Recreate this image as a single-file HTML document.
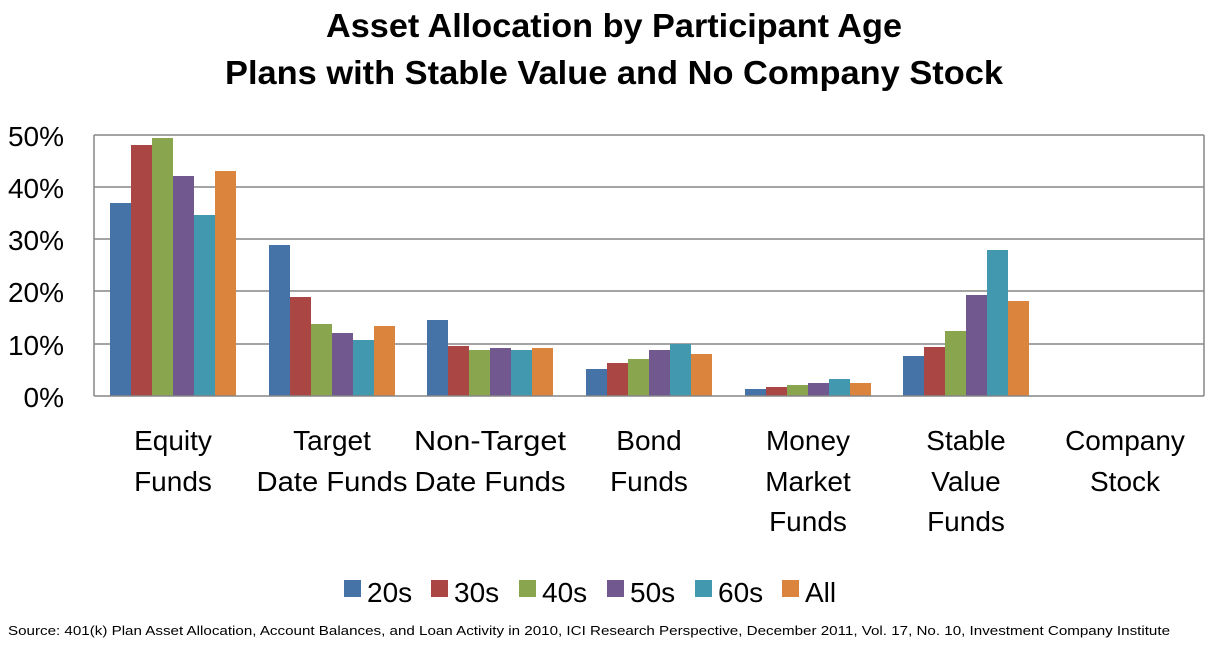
<!DOCTYPE html>
<html><head><meta charset="utf-8"><style>
body{margin:0;background:#fff;}
text{font-family:"Liberation Sans",sans-serif;}
</style></head><body>
<svg width="1214" height="647" xmlns="http://www.w3.org/2000/svg">
<rect width="1214" height="647" fill="#fff"/>
<text x="326" y="37" font-size="33" font-weight="bold" textLength="576" lengthAdjust="spacingAndGlyphs">Asset Allocation by Participant Age</text>
<text x="225" y="84" font-size="33" font-weight="bold" textLength="778" lengthAdjust="spacingAndGlyphs">Plans with Stable Value and No Company Stock</text>
<g stroke="#868686" stroke-width="1.5">
<line x1="94" y1="135" x2="1204" y2="135"/>
<line x1="94" y1="187" x2="1204" y2="187"/>
<line x1="94" y1="239" x2="1204" y2="239"/>
<line x1="94" y1="291" x2="1204" y2="291"/>
<line x1="94" y1="344" x2="1204" y2="344"/>
<line x1="94" y1="135" x2="94" y2="396"/>
<line x1="1204" y1="135" x2="1204" y2="396"/>
</g>
<g font-size="28" text-anchor="end">
<text x="64" y="146">50%</text><text x="64" y="198">40%</text><text x="64" y="250">30%</text><text x="64" y="302">20%</text><text x="64" y="355">10%</text><text x="64" y="407">0%</text>
</g>
<g font-size="28" text-anchor="middle">
<text x="173" y="450">Equity</text><text x="173" y="491">Funds</text>
<text x="332" y="450">Target</text><text x="332" y="491" textLength="151" lengthAdjust="spacingAndGlyphs">Date Funds</text>
<text x="490" y="450" textLength="152" lengthAdjust="spacingAndGlyphs">Non-Target</text><text x="490" y="491" textLength="151" lengthAdjust="spacingAndGlyphs">Date Funds</text>
<text x="649" y="450">Bond</text><text x="649" y="491">Funds</text>
<text x="808" y="450">Money</text><text x="808" y="491">Market</text><text x="808" y="531">Funds</text>
<text x="966" y="450">Stable</text><text x="966" y="491">Value</text><text x="966" y="531">Funds</text>
<text x="1125" y="450">Company</text><text x="1125" y="491">Stock</text>
</g>
<g font-size="28">
<rect x="344" y="580" width="17" height="17" fill="#4572A7"/><text x="367" y="602">20s</text>
<rect x="431" y="580" width="17" height="17" fill="#AA4643"/><text x="454" y="602">30s</text>
<rect x="519" y="580" width="17" height="17" fill="#89A54E"/><text x="542" y="602">40s</text>
<rect x="607" y="580" width="17" height="17" fill="#71588F"/><text x="630" y="602">50s</text>
<rect x="695" y="580" width="17" height="17" fill="#4198AF"/><text x="718" y="602">60s</text>
<rect x="782" y="580" width="17" height="17" fill="#DB843D"/><text x="805" y="602">All</text>
</g>
<text x="8" y="635" font-size="13" textLength="1162" lengthAdjust="spacingAndGlyphs">Source: 401(k) Plan Asset Allocation, Account Balances, and Loan Activity in 2010, ICI Research  Perspective, December 2011, Vol. 17, No. 10, Investment Company Institute</text>
<g>
<rect x="110" y="203" width="21" height="193" fill="#4572A7"/>
<rect x="131" y="145" width="21" height="251" fill="#AA4643"/>
<rect x="152" y="138" width="21" height="258" fill="#89A54E"/>
<rect x="173" y="176" width="21" height="220" fill="#71588F"/>
<rect x="194" y="215" width="21" height="181" fill="#4198AF"/>
<rect x="215" y="171" width="21" height="225" fill="#DB843D"/>

<rect x="269" y="245" width="21" height="151" fill="#4572A7"/>
<rect x="290" y="297" width="21" height="99" fill="#AA4643"/>
<rect x="311" y="324" width="21" height="72" fill="#89A54E"/>
<rect x="332" y="333" width="21" height="63" fill="#71588F"/>
<rect x="353" y="340" width="21" height="56" fill="#4198AF"/>
<rect x="374" y="326" width="21" height="70" fill="#DB843D"/>

<rect x="427" y="320" width="21" height="76" fill="#4572A7"/>
<rect x="448" y="346" width="21" height="50" fill="#AA4643"/>
<rect x="469" y="350" width="21" height="46" fill="#89A54E"/>
<rect x="490" y="348" width="21" height="48" fill="#71588F"/>
<rect x="511" y="350" width="21" height="46" fill="#4198AF"/>
<rect x="532" y="348" width="21" height="48" fill="#DB843D"/>

<rect x="586" y="369" width="21" height="27" fill="#4572A7"/>
<rect x="607" y="363" width="21" height="33" fill="#AA4643"/>
<rect x="628" y="359" width="21" height="37" fill="#89A54E"/>
<rect x="649" y="350" width="21" height="46" fill="#71588F"/>
<rect x="670" y="344" width="21" height="52" fill="#4198AF"/>
<rect x="691" y="354" width="21" height="42" fill="#DB843D"/>

<rect x="745" y="389" width="21" height="7" fill="#4572A7"/>
<rect x="766" y="387" width="21" height="9" fill="#AA4643"/>
<rect x="787" y="385" width="21" height="11" fill="#89A54E"/>
<rect x="808" y="383" width="21" height="13" fill="#71588F"/>
<rect x="829" y="379" width="21" height="17" fill="#4198AF"/>
<rect x="850" y="383" width="21" height="13" fill="#DB843D"/>

<rect x="903" y="356" width="21" height="40" fill="#4572A7"/>
<rect x="924" y="347" width="21" height="49" fill="#AA4643"/>
<rect x="945" y="331" width="21" height="65" fill="#89A54E"/>
<rect x="966" y="295" width="21" height="101" fill="#71588F"/>
<rect x="987" y="250" width="21" height="146" fill="#4198AF"/>
<rect x="1008" y="301" width="21" height="95" fill="#DB843D"/>
</g>
<line x1="94" y1="396" x2="1204" y2="396" stroke="#868686" stroke-width="1.5"/>
</svg>
</body></html>
